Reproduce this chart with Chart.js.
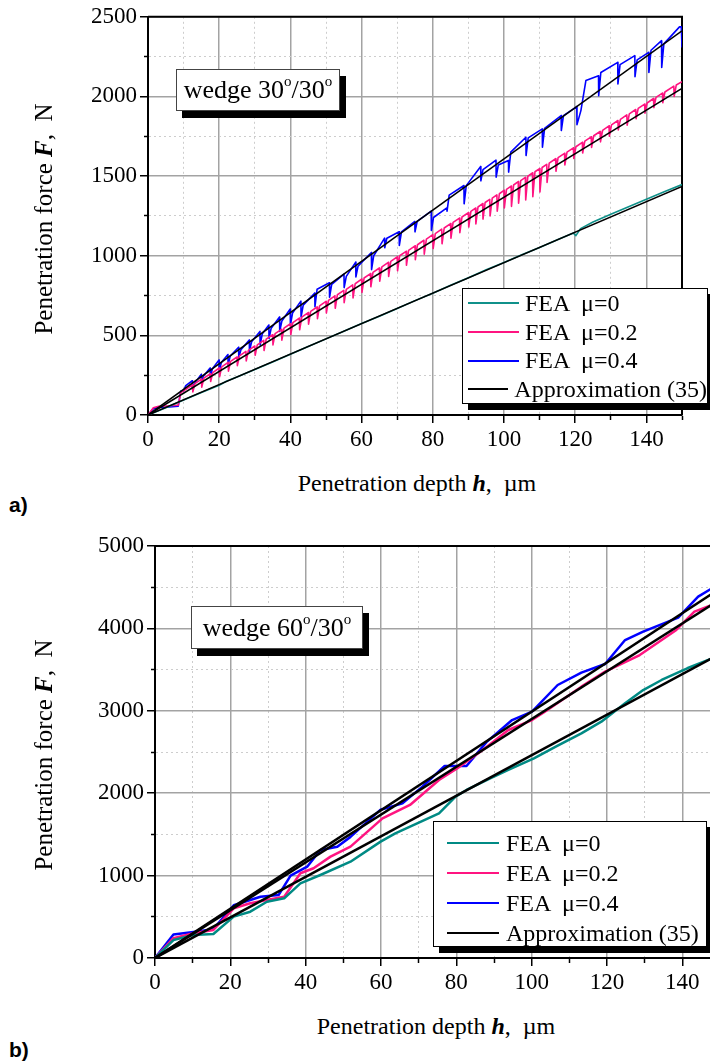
<!DOCTYPE html>
<html>
<head>
<meta charset="utf-8">
<script src="https://cdn.jsdelivr.net/npm/chart.js@4.4.1/dist/chart.umd.min.js"></script>
<style>
html, body { margin: 0; padding: 0; width: 710px; height: 1063px; overflow: hidden; background: #fff; }
body { position: relative; font-family: "Liberation Serif", "Times New Roman", serif; color: #000; }
.wrap { position: absolute; left: 0; }
#wrapA { top: 0; width: 710px; height: 460px; }
#wrapB { top: 520px; width: 760px; height: 480px; }
.tag { position: absolute; background: #fff; border: 1.5px solid #444; box-shadow: 6px 7px 0 #000;
       font-size: 26px; line-height: 1; display: flex; align-items: center; justify-content: center; box-sizing: border-box; }
.tag sup { font-size: 15px; position: relative; top: -3px; vertical-align: top; line-height: 1; }
.legend { position: absolute; background: #fff; border: 1.5px solid #000; box-shadow: 6px 6px 0 #000; box-sizing: border-box; font-size: 24px; }
.legend .row { display: flex; align-items: center; white-space: pre; }
.legend .swatch { display: inline-block; height: 2px; }
#legA { left: 462px; top: 288px; width: 246px; height: 116px; }
#legA .row { height: 28.7px; }
#legA .swatch { width: 51px; margin: 0 6px 0 5px; }
#legB { left: 433px; top: 821px; width: 274px; height: 126px; padding-top: 6px; }
#legB .row { height: 30px; }
#legB .swatch { width: 52px; margin: 0 7px 0 13px; height: 2.5px; }
.ytitle { position: absolute; font-size: 25px; white-space: pre; transform: translate(-50%, -50%) rotate(-90deg); }
.xtitle { position: absolute; font-size: 24px; white-space: pre; transform: translate(-50%, -50%); }
.panel { position: absolute; left: 9px; font-family: "Liberation Sans", Arial, sans-serif; font-weight: bold; font-size: 21px; transform: translateY(-50%); }
</style>
</head>
<body>

<div class="wrap" id="wrapA"><canvas id="chartA" width="710" height="460"></canvas></div>
<div class="wrap" id="wrapB"><canvas id="chartB" width="760" height="480"></canvas></div>

<div class="tag" style="left:176px; top:69px; width:164px; height:42px;"><span>wedge 30<sup>o</sup>/30<sup>o</sup></span></div>
<div class="tag" style="left:191px; top:606px; width:172px; height:43px;"><span>wedge 60<sup>o</sup>/30<sup>o</sup></span></div>

<div class="legend" id="legA"></div>
<div class="legend" id="legB"></div>

<div class="ytitle" style="left:44px; top:219px;">Penetration force <b><i>F</i></b>,  N</div>
<div class="ytitle" style="left:44px; top:755px;">Penetration force <b><i>F</i></b>,  N</div>
<div class="xtitle" style="left:417px; top:483px;">Penetration depth <b><i>h</i></b>,  µm</div>
<div class="xtitle" style="left:436px; top:1026px;">Penetration depth <b><i>h</i></b>,  µm</div>
<div class="panel" style="top:505px;">a)</div>
<div class="panel" style="top:1050px;">b)</div>

<script>
// ---------- data ----------
// a) wedge 30/30 : [depth um, force N]
const feaA_mu0 = [
  [0,0],[5,46],[10,94],[15,141],[20,187],[22,212],[25,238],[30,285],[35,333],[40,381],
  [45,430],[50,478],[55,526],[60,574],[65,620],[70,668],[75,718],[80,765],[85,814],
  [90,862],[95,912],[100,958],[105,1006],[110,1052],[115,1100],[119.5,1142],[120.2,1126],
  [121.5,1170],[125,1212],[130,1260],[135,1308],[140,1355],[145,1402],[150,1447]
];

const feaA_mu02 = [
  [0,0],[1.5,45],[3,55],[6,58],[8.5,62],[9.2,140],[10,152],
  [12.5,190],[12.6,145],[13.2,197],[15,225],[15.1,175],[15.7,232],
  [17.5,259],[17.6,210],[18.2,266],[20,295],[20.1,240],[20.7,302],
  [22.5,330],[22.6,275],[23.2,337],[25,364],[25.1,310],[25.7,371],
  [27.5,399],[27.6,340],[28.2,406],[30,433],[30.1,375],[30.7,440],
  [32.5,469],[32.6,405],[33.2,476],[35,504],[35.1,440],[35.7,511],
  [37.5,538],[37.6,470],[38.2,545],[40,573],[40.1,505],[40.7,580],
  [42.5,608],[42.6,535],[43.2,615],[45,643],[45.1,570],[45.7,650],
  [47.5,678],[47.6,605],[48.2,685],[50,713],[50.1,640],[50.7,720],
  [52.5,748],[52.6,670],[53.2,755],[55,782],[55.1,705],[55.7,789],
  [57.5,817],[57.6,735],[58.2,824],[60,853],[60.1,770],[60.7,860],
  [62.5,888],[62.6,805],[63.2,895],[65,923],[65.1,840],[65.7,930],
  [67.5,958],[67.6,870],[68.2,965],[70,993],[70.1,905],[70.7,1000],
  [72.5,1027],[72.6,940],[73.2,1034],[75,1062],[75.1,975],[75.7,1069],
  [77.5,1097],[77.6,1010],[78.2,1104],[80,1132],[80.1,1045],[80.7,1139],
  [82.5,1167],[82.6,1075],[83.2,1174],[85,1202],[85.1,1110],[85.7,1209],
  [87.5,1236],[87.6,1145],[88.2,1243],[90,1271],[90.1,1180],[90.7,1278],
  [92,1299],[92.1,1200],[92.7,1306],[94,1327],[94.1,1230],[94.7,1334],
  [96,1354],[96.1,1250],[96.7,1361],[98,1382],[98.1,1280],[98.7,1389],
  [100,1410],[100.1,1300],[100.7,1417],[102,1437],[102.1,1310],[102.7,1444],
  [104,1465],[104.1,1330],[104.7,1472],[106,1492],[106.1,1350],[106.7,1499],
  [108,1520],[108.1,1370],[108.7,1527],[110,1547],[110.1,1400],[110.7,1554],
  [112,1574],[112.1,1460],[112.7,1581],[114.5,1609],[114.6,1530],[115.2,1616],
  [117,1643],[117.1,1570],[117.7,1650],[119.5,1677],[119.6,1610],[120.2,1684],
  [122,1712],[122.1,1645],[122.7,1719],[124.5,1746],[124.6,1680],[125.2,1753],
  [127,1780],[127.1,1715],[127.7,1787],[129.5,1815],[129.6,1750],[130.2,1822],
  [132,1849],[132.1,1790],[132.7,1856],[134.5,1884],[134.6,1820],[135.2,1891],
  [137,1918],[137.1,1860],[137.7,1925],[139.5,1952],[139.6,1895],[140.2,1959],
  [142,1987],[142.1,1930],[142.7,1994],[144.5,2021],[144.6,1960],[145.2,2028],
  [147.7,2065],[147.8,2000],[148.4,2072],[150,2093]
];

const feaA_mu04 = [
  [0,0],[1.5,40],[3,48],[6,50],[8.5,55],[9.2,150],
  [10,150],[10.6,185],[12.45,215],[12.5,160],[13.1,200],[14.95,255],
  [15,205],[15.6,245],[17.45,295],[17.5,240],[18.1,290],[19.95,345],
  [20,275],[20.6,330],[22.45,380],[22.5,315],[23.1,370],[25.45,425],
  [25.5,360],[26.1,410],[28.45,470],[28.5,400],[29.1,460],[31.45,525],
  [31.5,440],[32.1,510],[33.95,565],[34,480],[34.6,545],[36.95,615],
  [37,525],[37.6,590],[39.95,665],[40,565],[40.6,640],[42.95,715],
  [43,615],[43.6,690],[46.85,765],[46.9,680],[47.5,790],[50.95,830],
  [51,740],[51.6,820],[55.05,885],[55.1,800],[55.7,870],[58.35,960],
  [58.4,867],[59,935],[62.75,1020],[62.8,913],[63.4,1000],[66.45,1110],
  [66.5,1050],[67.1,1110],[70.55,1150],[70.6,1065],[71.2,1150],[74.95,1215],
  [75,1150],[75.6,1215],[79.55,1280],[79.6,1159],[80.2,1240],[83.95,1300],
  [84,1280],[84.6,1380],[88.75,1441],[88.8,1326],[89.4,1440],[93.45,1560],
  [93.5,1470],[94.1,1540],[97.75,1600],[97.8,1493],[98.4,1570],[101.25,1598],
  [101.3,1525],[101.9,1650],[106.15,1744],[106.2,1629],[106.8,1740],[110.75,1796],
  [110.8,1681],[111.4,1800],[116.05,1880],[116.1,1786],[116.7,1880],[120.45,1936],
  [120.5,1823],[121.6,1911],[123,2100],[126.55,2130],[126.6,2005],[127.2,2150],
  [131.95,2214],[132,2078],[132.6,2200],[136.75,2256],[136.8,2124],[137.4,2230],
  [140.65,2277],[140.7,2151],[141.3,2290],[144.25,2350],[144.3,2182],[144.9,2330],
  [149.3,2437],[149.8,2437],[150,2308]
];

const approxA_mu0 = [[0,0],[150,1435]];
const approxA_mu02 = [[0,0],[150,2051]];
const approxA_mu04 = [[0,0],[150,2412]];

// b) wedge 60/30
const feaB_mu0 = [
  [0,0],[4.9,218],[10.2,279],[15.5,291],[20.9,502],[25.3,562],[29.7,683],[34.3,724],
  [38.6,906],[43.9,1007],[51.9,1169],[59.9,1412],[63.8,1513],[69.6,1635],[75.4,1756],
  [79.8,1958],[82.7,2039],[89,2181],[93.8,2282],[100.6,2423],[106.4,2565],[113.2,2727],
  [118.5,2868],[124.8,3091],[129.6,3252],[134.5,3374],[141.3,3516],[147.9,3637],[150,3680]
];
const feaB_mu02 = [
  [0,0],[4.9,240],[10.2,300],[15.5,340],[20.9,603],[25.3,664],[29.7,704],[34.3,744],
  [38.6,1028],[42.1,1089],[46.6,1230],[51.9,1351],[60.4,1695],[67.7,1857],[75.4,2160],
  [80.3,2302],[87,2524],[93.8,2767],[100.1,2888],[103.5,2989],[113.2,3293],[119.5,3475],
  [128.7,3677],[138.4,3981],[143.2,4203],[147.9,4284],[150,4330]
];
const feaB_mu04 = [
  [0,0],[4.9,285],[10.2,315],[15.5,350],[20.9,640],[28,744],[32.8,764],[36,1000],
  [40.4,1108],[43.9,1311],[48.4,1351],[51.9,1470],[59.9,1800],[65.7,1877],[71,2080],
  [76.9,2330],[82.7,2330],[88,2620],[94.8,2888],[100.1,2989],[106.9,3313],[113.2,3463],
  [119.5,3568],[124.8,3859],[129.6,3960],[138.9,4130],[144.2,4385],[147.9,4487],[150,4540]
];
const approxB_mu0 = [[0,0],[150,3690]];
const approxB_mu02 = [[0,0],[150,4350]];
const approxB_mu04 = [[0,0],[150,4485]];

const labelsLegend = ['FEA  \u03bc=0', 'FEA  \u03bc=0.2', 'FEA  \u03bc=0.4', 'Approximation (35)'];
const colTeal = '#10918a', colPink = '#ff1480', colBlue = '#0000ff';

const FONT = '"Liberation Serif", "Times New Roman", serif';

// ---------- plugins ----------
// top and right frame lines
const framePlugin = {
  id: 'frame',
  beforeDatasetsDraw(chart) {
    const {ctx, chartArea: a} = chart;
    ctx.save();
    ctx.strokeStyle = '#000';
    ctx.lineWidth = 2;
    ctx.beginPath();
    ctx.moveTo(a.left, a.top);
    ctx.lineTo(a.right, a.top);
    ctx.lineTo(a.right, a.bottom);
    ctx.stroke();
    ctx.restore();
  }
};

// legend built as html from the datasets
const htmlLegend = {
  id: 'htmlLegend',
  afterUpdate(chart, args, opts) {
    const box = document.getElementById(opts.containerID);
    box.innerHTML = '';
    chart.data.datasets.forEach(ds => {
      if (!ds.legendText) return;
      const row = document.createElement('div');
      row.className = 'row';
      const sw = document.createElement('span');
      sw.className = 'swatch';
      sw.style.background = ds.borderColor;
      const t = document.createElement('span');
      t.textContent = ds.legendText;
      row.append(sw, t);
      box.appendChild(row);
    });
  }
};

function axis(max, step, isY, size) {
  const major = v => Math.abs(v % step) < 1e-6;
  return {
    type: 'linear', min: 0, max: max,
    afterFit: s => { if (isY) s.width = size; else s.height = size; },
    ticks: {
      stepSize: step / 2, autoSkip: false, maxRotation: 0, color: '#000',
      padding: 3,
      font: { family: FONT, size: 23 },
      callback: v => major(v) ? v : ''
    },
    grid: {
      color: c => c.tick && major(c.tick.value) ? '#a3a3a3' : '#cdcdcd',
      lineWidth: c => c.tick && major(c.tick.value) ? 1.5 : 1,
      tickColor: '#000', tickLength: 8, tickWidth: 1.5,
      tickBorderDash: c => c.tick && !major(c.tick.value) ? (isY ? [4, 4] : [4, 10]) : [],
      tickBorderDashOffset: c => c.tick && !major(c.tick.value) && isY ? 4 : 0
    },
    border: { color: '#000', width: 2, dash: c => c.tick && !major(c.tick.value) ? [2, 3] : [] }
  };
}

function line(data, color, width, text, order) {
  return {
    data: data, borderColor: color, borderWidth: width, legendText: text, order: order,
    pointRadius: 0, tension: 0, fill: false, borderJoinStyle: 'round'
  };
}

function makeChart(id, datasets, legendId, xAxis, yAxis, pad) {
  return new Chart(document.getElementById(id), {
    type: 'line',
    data: { datasets: datasets },
    options: {
      responsive: false, animation: false, devicePixelRatio: 1,
      layout: { padding: pad },
      scales: { x: xAxis, y: yAxis },
      plugins: { legend: { display: false }, tooltip: { enabled: false }, htmlLegend: { containerID: legendId } }
    },
    plugins: [framePlugin, htmlLegend]
  });
}

makeChart('chartA', [
  line(feaA_mu0, colTeal, 1.6, labelsLegend[0], 1),
  line(feaA_mu02, colPink, 1.6, labelsLegend[1], 1),
  line(feaA_mu04, colBlue, 1.6, labelsLegend[2], 1),
  line(approxA_mu0, '#000', 1.6, labelsLegend[3], 0),
  line(approxA_mu02, '#000', 1.6, null, 0),
  line(approxA_mu04, '#000', 1.6, null, 0)
], 'legA', axis(150, 20, false, 45), axis(2500, 500, true, 148), { top: 16, right: 28, left: 0, bottom: 0 });

makeChart('chartB', [
  line(feaB_mu0, '#008a84', 2.5, labelsLegend[0], 1),
  line(feaB_mu02, colPink, 2.5, labelsLegend[1], 1),
  line(feaB_mu04, colBlue, 2.5, labelsLegend[2], 1),
  line(approxB_mu0, '#000', 2.5, labelsLegend[3], 0),
  line(approxB_mu02, '#000', 2.5, null, 0),
  line(approxB_mu04, '#000', 2.5, null, 0)
], 'legB', axis(150, 20, false, 42), axis(5000, 1000, true, 155), { top: 26, right: 40, left: 0, bottom: 0 });
</script>
</body>
</html>
